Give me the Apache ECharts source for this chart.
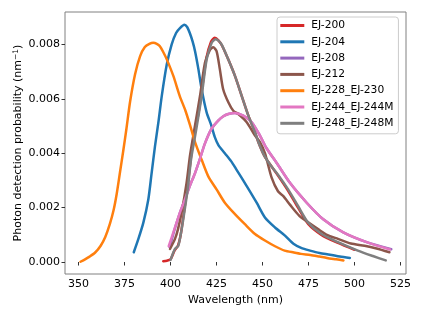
<!DOCTYPE html>
<html><head><meta charset="utf-8">
<script src="https://cdn.jsdelivr.net/npm/echarts@6/dist/echarts.min.js"></script>
<style>html,body{margin:0;padding:0;background:#fff}#c{width:423px;height:317px}</style>
</head><body><div id="c"></div>
<script>
const seriesNames = ['EJ-200','EJ-204','EJ-208','EJ-212','EJ-228_EJ-230','EJ-244_EJ-244M','EJ-248_EJ-248M'];
const seriesColors = ['#d62728','#1f77b4','#9467bd','#8c564b','#ff7f0e','#e377c2','#7f7f7f'];
const xTicks = [350,375,400,425,450,475,500,525];
const yTicks = [0,0.002,0.004,0.006,0.008];

const ej200 = [[396,0.00003],[398,0.00005],[400,0.0001],[402,0.0004],[404,0.0006],[405.5,0.001],[406.9,0.00165],[409,0.00265],[411,0.0038],[412.5,0.0046],[415,0.0054],[417,0.0063],[419.5,0.0075],[422,0.0081],[424,0.00824],[426,0.00815],[428,0.00795],[431.4,0.00744],[435,0.00684],[438.7,0.0061],[442.3,0.00538],[445.9,0.00477],[447.7,0.00441],[451,0.0039],[455,0.0035],[458.4,0.00318],[463.9,0.00262],[469.3,0.002],[474.8,0.0014],[482,0.001],[491,0.0007],[500,0.00045]];
const ej204 = [[380,0.00036],[382.5,0.00085],[385.2,0.00145],[387.9,0.0023],[389.7,0.00327],[391.5,0.00424],[393.5,0.0052],[395.2,0.0061],[397.9,0.00725],[400.6,0.008],[403,0.00842],[405.1,0.0086],[407.5,0.00872],[409,0.00864],[410.5,0.00841],[412,0.0081],[413.3,0.00775],[415.1,0.0071],[416.9,0.00635],[419.6,0.0055],[422,0.00505],[424,0.0046],[426,0.0043],[429.5,0.004],[433,0.0037],[435.9,0.00339],[441.4,0.00279],[446.8,0.00218],[451.3,0.00164],[456.8,0.00127],[462.2,0.00097],[466.8,0.00067],[471,0.00052],[475.8,0.00042],[481,0.00033],[486.7,0.00027],[492,0.0002],[497.5,0.00015]];
const ej208 = [[399.5,0.00055],[402.4,0.00125],[405,0.0018],[407.8,0.0023],[410.5,0.0028],[413.3,0.00327],[416,0.0038],[418.7,0.00436],[422.3,0.0049],[425.9,0.0052],[428.5,0.00535],[431.4,0.00544],[435,0.00548],[439.5,0.00538],[444.1,0.00514],[448.6,0.00465],[452,0.0042],[457.7,0.00364],[464.9,0.00291],[474,0.00218],[483,0.00157],[493.9,0.00109],[506.6,0.00073],[520,0.00047]];
const ej212 = [[399.7,0.00048],[402.4,0.00085],[404,0.0012],[406,0.00182],[408.7,0.00291],[410.5,0.00388],[412,0.0045],[413.5,0.0051],[416,0.0061],[418.7,0.00732],[421.4,0.0078],[423.2,0.00789],[425,0.00775],[426.8,0.00708],[428.6,0.00635],[431.4,0.00587],[434.1,0.00556],[436.8,0.00544],[441.4,0.00514],[445.9,0.00465],[448.6,0.00441],[451.3,0.004],[455,0.00309],[458.4,0.0026],[461.3,0.00242],[465,0.0021],[470,0.0017],[475,0.00145],[480.2,0.00121],[485,0.001],[491,0.00085],[498,0.00068],[505.5,0.0006],[512,0.0005],[519,0.00036]];
const ej228 = [[351,0.00001],[353.5,0.0001],[356,0.0002],[359,0.00035],[362,0.0006],[364.5,0.00092],[367,0.0014],[369,0.0019],[370.7,0.0025],[372.5,0.0033],[374.3,0.0041],[376,0.0049],[378,0.0059],[380.7,0.0069],[383.4,0.00756],[386,0.0079],[388.5,0.00802],[390.6,0.00806],[392.5,0.00802],[394.2,0.00793],[396,0.00772],[398,0.00744],[401.5,0.00684],[405,0.0061],[408,0.00558],[410.5,0.00505],[413.3,0.00441],[416.9,0.00376],[420.5,0.00315],[425,0.00267],[429.5,0.00218],[435,0.00176],[440.4,0.00139],[445.9,0.00103],[451.3,0.00079],[456.8,0.00058],[462,0.00042],[467,0.00035],[471,0.0003],[476,0.00026],[481,0.0002],[485,0.00015],[490,0.0001],[494,0.00006]];
const ej244 = [[399,0.00058],[402.4,0.00127],[405,0.0018],[407.8,0.0023],[410.5,0.0028],[413.3,0.00327],[416,0.0038],[418.7,0.00436],[422.3,0.0049],[425.9,0.0052],[428.5,0.00535],[431.4,0.00544],[435,0.00548],[439.5,0.00538],[444.1,0.00514],[448.6,0.00465],[452,0.0042],[457.7,0.00364],[464.9,0.00291],[474,0.00218],[483,0.00157],[493.9,0.00109],[506.6,0.00073],[519.3,0.00046]];
const ej248 = [[400,0.00008],[402.4,0.00048],[404.2,0.0006],[405.5,0.001],[406.9,0.00157],[409.3,0.00267],[411.1,0.00376],[413,0.0045],[415,0.0053],[416.9,0.0061],[419.6,0.00744],[422.3,0.00805],[424.5,0.00819],[426,0.00814],[427.8,0.00799],[431.4,0.00744],[435,0.00684],[438.7,0.0061],[442.3,0.00538],[445.9,0.00477],[447.7,0.00441],[451,0.0039],[455,0.0035],[458.4,0.00321],[463.9,0.00267],[469.3,0.00206],[474.8,0.00145],[482,0.00103],[491,0.00073],[501.8,0.00042],[510,0.00022],[517,0.00006]];

const seriesData = [ej200, ej204, ej208, ej212, ej228, ej244, ej248];
const FONT = 'DejaVu Sans';

const chart = echarts.init(document.getElementById('c'), null, {renderer: 'canvas'});
chart.setOption({
  animation: false,
  backgroundColor: '#fff',
  textStyle: {fontFamily: FONT},
  grid: {left: 65, top: 12, right: 17, bottom: 43, show: true, borderColor: '#808080', borderWidth: 1, backgroundColor: 'transparent'},
  xAxis: {
    type: 'value', min: 342.6, max: 528,
    name: 'Wavelength (nm)', nameLocation: 'middle', nameGap: 21, nameMoveOverlap: false,
    nameTextStyle: {fontFamily: FONT, fontSize: 11, color: '#000'},
    axisLine: {show: false},
    axisTick: {show: true, length: 3.5, lineStyle: {color: '#333'}, customValues: xTicks},
    axisLabel: {fontFamily: FONT, fontSize: 11, color: '#000', margin: 5, customValues: xTicks},
    splitLine: {show: false}
  },
  yAxis: {
    type: 'value', min: -0.00044, max: 0.00919,
    name: 'Photon detection probability (nm{sup|\u22121})', nameLocation: 'middle', nameGap: 40, nameMoveOverlap: false,
    nameTextStyle: {fontFamily: FONT, fontSize: 11, color: '#000', rich: {sup: {fontFamily: FONT, fontSize: 7.5, verticalAlign: 'top', lineHeight: 13, color: '#000'}}},
    axisLine: {show: false},
    axisTick: {show: true, length: 3.5, lineStyle: {color: '#333'}, customValues: yTicks},
    axisLabel: {fontFamily: FONT, fontSize: 11, color: '#000', margin: 5, customValues: yTicks, formatter: v => v.toFixed(3)},
    splitLine: {show: false}
  },
  legend: {
    orient: 'vertical', left: 277, top: 17,
    data: seriesNames,
    icon: 'rect', itemWidth: 24, itemHeight: 3, itemGap: 3.3,
    padding: [2, 5, 4, 3.3],
    backgroundColor: 'rgba(255,255,255,0.8)', borderColor: '#cccccc', borderWidth: 1, borderRadius: 3,
    textStyle: {fontFamily: FONT, fontSize: 10.7, color: '#000', lineHeight: 13, padding: [0, 0, 0, 2]}
  },
  series: seriesNames.map((n, i) => ({
    name: n, type: 'line', data: seriesData[i], showSymbol: false, symbol: 'none',
    smooth: 0.25,
    lineStyle: {width: 2.5, color: seriesColors[i], cap: 'round', join: 'round'}, itemStyle: {color: seriesColors[i]},
    emphasis: {disabled: true}
  }))
});
</script></body></html>
